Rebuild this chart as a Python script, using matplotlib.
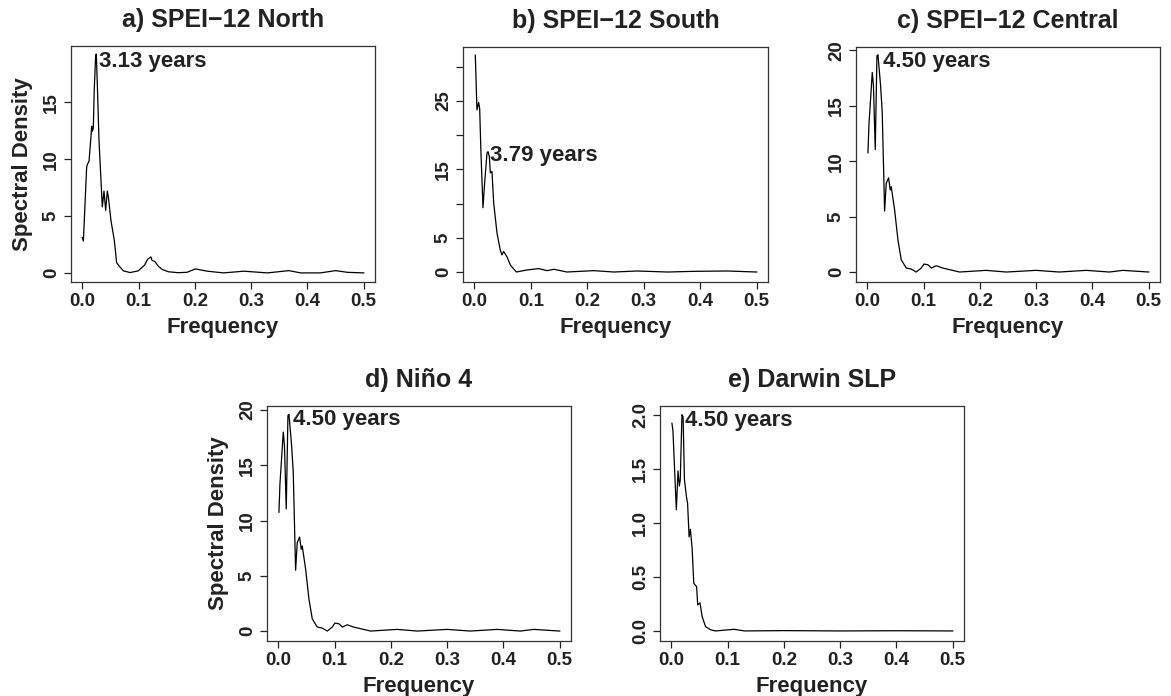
import matplotlib
matplotlib.use("Agg")
import matplotlib.pyplot as plt

plt.rcParams["font.family"] = ["Liberation Sans", "DejaVu Sans"]
plt.rcParams["font.weight"] = "bold"

# spectral density curves (frequency in cycles/month)
north_freq = [0.000, 0.002, 0.0078, 0.0096, 0.012, 0.0155, 0.0167, 0.0178, 0.0196, 0.0213,
              0.0238, 0.0249, 0.0267, 0.0297, 0.0332, 0.0356, 0.0386, 0.0416, 0.0445, 0.0463,
              0.051, 0.057, 0.061, 0.064, 0.073, 0.085, 0.0995, 0.111, 0.116, 0.122, 0.124,
              0.129, 0.135, 0.142, 0.153, 0.170, 0.186, 0.201, 0.222, 0.251, 0.287, 0.329,
              0.367, 0.388, 0.423, 0.450, 0.471, 0.500]
north_dens = [3.1, 2.8, 9.3, 9.6, 9.8, 12.0, 12.9, 12.45, 12.7, 16.1,
              19.1, 19.25, 16.7, 11.7, 8.2, 5.8, 7.2, 5.5, 7.2, 6.7,
              4.6, 2.84, 0.91, 0.7, 0.18, 0.03, 0.18, 0.7, 1.2, 1.4, 1.1,
              1.0, 0.6, 0.3, 0.1, 0.02, 0.05, 0.35, 0.15, 0.0, 0.15, 0.0,
              0.2, 0.0, 0.0, 0.2, 0.05, 0.0]

south_freq = [0.0018, 0.0047, 0.0077, 0.0095, 0.0118, 0.0154, 0.0183, 0.0225, 0.0243, 0.0266,
              0.0284, 0.0313, 0.0343, 0.0402, 0.046, 0.049, 0.052, 0.058, 0.064, 0.0745,
              0.0934, 0.114, 0.129, 0.141, 0.164, 0.2116, 0.247, 0.288, 0.342, 0.389,
              0.448, 0.500]
south_dens = [31.7, 23.7, 24.8, 23.9, 17.4, 9.4, 13.0, 17.4, 17.6, 16.9,
              14.5, 14.7, 10.1, 5.7, 3.2, 2.5, 3.0, 2.2, 1.0, 0.0,
              0.3, 0.5, 0.2, 0.4, 0.0, 0.2, 0.0, 0.15, 0.0, 0.1,
              0.15, 0.0]

central_freq = [0.0012, 0.003, 0.0089, 0.011, 0.0142, 0.0172, 0.019, 0.0237, 0.0266, 0.0308,
                0.0337, 0.0379, 0.0408, 0.0426, 0.0486, 0.0545, 0.0604, 0.0693, 0.078, 0.087,
                0.0959, 0.1006, 0.1077, 0.114, 0.1225, 0.134, 0.164, 0.211, 0.247, 0.300,
                0.341, 0.389, 0.430, 0.454, 0.500]
central_dens = [10.75, 13.3, 18.0, 16.8, 11.05, 19.5, 19.6, 16.8, 14.4, 5.5,
                8.0, 8.5, 7.4, 7.7, 5.6, 2.9, 1.1, 0.36, 0.27, 0.0,
                0.36, 0.72, 0.66, 0.36, 0.57, 0.36, 0.0, 0.15, 0.0, 0.15,
                0.0, 0.15, 0.0, 0.15, 0.0]

# Nino 4 spectrum looks identical to the central one
nino4_freq = list(central_freq)
nino4_dens = list(central_dens)

darwin_freq = [0.0012, 0.003, 0.009, 0.012, 0.0144, 0.016, 0.019, 0.021, 0.0234, 0.027,
               0.029, 0.0317, 0.034, 0.037, 0.040, 0.045, 0.047, 0.051, 0.055, 0.061,
               0.070, 0.079, 0.100, 0.112, 0.130, 0.200, 0.300, 0.400, 0.500]
darwin_dens = [1.92, 1.85, 1.12, 1.48, 1.34, 1.40, 2.0, 1.98, 1.40, 1.24,
               1.18, 0.87, 0.94, 0.77, 0.44, 0.41, 0.24, 0.26, 0.13, 0.04,
               0.01, 0.0, 0.01, 0.015, 0.0, 0.003, 0.0, 0.002, 0.0]

titles = ["a) SPEI\u221212 North", "b) SPEI\u221212 South", "c) SPEI\u221212 Central",
          "d) Ni\u00f1o 4", "e) Darwin SLP"]
peak_labels = ["3.13 years", "3.79 years", "4.50 years", "4.50 years", "4.50 years"]

fig = plt.figure(figsize=(11.71, 6.96), dpi=100)
W, H = 1171, 696

def make_axes(left, top, right, bottom):
    return fig.add_axes([left / W, 1 - bottom / H, (right - left) / W, (bottom - top) / H])

panels = [
    (make_axes(71, 46, 375, 282), north_freq, north_dens, (-0.8, 19.95), [0, 5, 10, 15],
     ["0", "5", "10", "15"], (0.029, 18.6), True),
    (make_axes(463, 47, 768, 282), south_freq, south_dens, (-1.46, 32.9), [0, 5, 10, 15, 20, 25, 30],
     ["0", "5", "", "15", "", "25", ""], (0.0285, 17.1), False),
    (make_axes(856, 47, 1160, 282), central_freq, central_dens, (-0.9, 20.3), [0, 5, 10, 15, 20],
     ["0", "5", "10", "15", "20"], (0.0277, 19.0), False),
    (make_axes(267, 406, 571, 641), nino4_freq, nino4_dens, (-0.9, 20.36), [0, 5, 10, 15, 20],
     ["0", "5", "10", "15", "20"], (0.0255, 19.1), True),
    (make_axes(660, 406, 964, 641), darwin_freq, darwin_dens, (-0.093, 2.08), [0, 0.5, 1.0, 1.5, 2.0],
     ["0.0", "0.5", "1.0", "1.5", "2.0"], (0.024, 1.95), False),
]

xt = [0.0, 0.1, 0.2, 0.3, 0.4, 0.5]
for i, (ax, fx, dy, ylim, yt, ytl, lab_pos, ylab) in enumerate(panels):
    ax.plot(fx, dy, color="black", lw=0.9)
    ax.set_xlim(-0.02, 0.52)
    ax.set_ylim(*ylim)
    ax.set_xticks(xt)
    ax.set_xticklabels(["%.1f" % v for v in xt], fontsize=13.5, fontweight="bold")
    ax.set_yticks(yt)
    ax.set_yticklabels(ytl, fontsize=13.5, fontweight="bold", rotation=90, va="center")
    ax.tick_params(direction="out", length=5, width=0.9, pad=3, colors="#222222")
    for s in ax.spines.values():
        s.set_linewidth(0.9)
        s.set_color("#333333")
    ax.set_title(titles[i], fontsize=18, fontweight="bold", pad=14, color="#222222")
    ax.set_xlabel("Frequency", fontsize=16, fontweight="bold", labelpad=5, color="#222222")
    if ylab:
        ax.set_ylabel("Spectral Density", fontsize=16, fontweight="bold", labelpad=7,
                      color="#222222")
    ax.text(lab_pos[0], lab_pos[1], peak_labels[i], fontsize=16, fontweight="bold",
            ha="left", va="center", color="#222222")

fig.savefig("out.png", dpi=100)
